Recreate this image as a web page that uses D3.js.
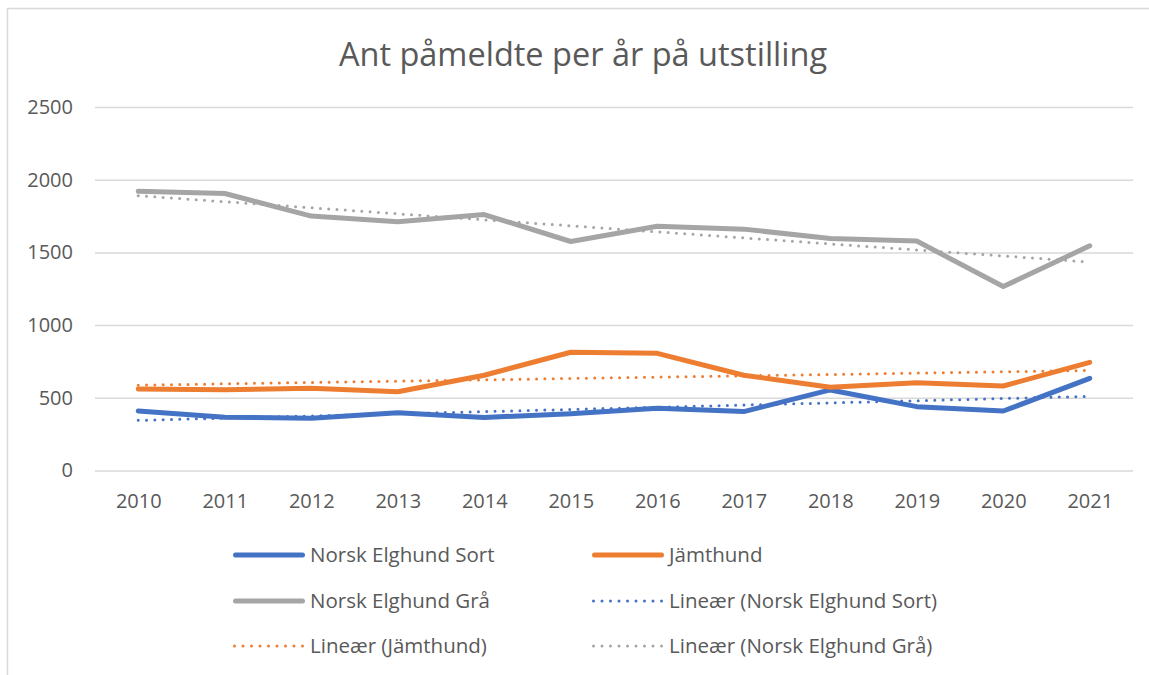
<!DOCTYPE html>
<meta charset="utf-8">
<style>
body { margin: 0; background: #fff; }
text { font-family: "Open Sans", sans-serif; fill: #595959; }
.grid line { stroke: #d9d9d9; stroke-width: 1.5px; }
.grid path { display: none; }
.axis path, .axis line { display: none; }
.series { fill: none; stroke-width: 5px; stroke-linejoin: round; stroke-linecap: round; }
.trend { fill: none; stroke-width: 3px; stroke-linecap: round; stroke-dasharray: 0 8.3; }
</style>
<body>
<script src="https://cdnjs.cloudflare.com/ajax/libs/d3/7.8.5/d3.min.js"></script>
<script>
// data
var years = ["2010", "2011", "2012", "2013", "2014", "2015", "2016", "2017", "2018", "2019", "2020", "2021"];
var sort = [410, 366, 360, 398, 365, 390, 428, 405, 554, 439, 409, 634];
var jamthund = [560, 555, 565, 542, 655, 813, 806, 655, 572, 604, 581, 744];
var gra = [1920, 1905, 1750, 1710, 1760, 1575, 1680, 1660, 1595, 1578, 1265, 1545];
var seriesNames = ["Norsk Elghund Sort", "Jämthund", "Norsk Elghund Grå"];
var colors = ["#4472c4", "#ed7d31", "#a5a5a5"];
// linear trend lines, first and last year
var trendStart = [345, 587, 1890];
var trendEnd = [510, 688, 1434];
var yTicks = [0, 500, 1000, 1500, 2000, 2500];
var title = "Ant påmeldte per år på utstilling";

var W = 1149, H = 675;
var margin = {top: 107, right: 16, bottom: 204.5, left: 95},
    width = W - margin.left - margin.right,
    height = H - margin.top - margin.bottom;

var svg = d3.select("body").append("svg")
    .attr("width", W)
    .attr("height", H);

// chart border (runs off the right and bottom edges)
svg.append("rect")
    .attr("x", 7.5).attr("y", 8.5)
    .attr("width", W).attr("height", H)
    .attr("fill", "none")
    .attr("stroke", "#d9d9d9")
    .attr("stroke-width", 1.5);

svg.append("text")
    .attr("x", 583)
    .attr("y", 66)
    .attr("text-anchor", "middle")
    .style("font-size", "32.5px")
    .text(title);

var g = svg.append("g")
    .attr("transform", "translate(" + margin.left + "," + margin.top + ")");

var x = d3.scalePoint().domain(years).range([0, width]).padding(0.5);
var y = d3.scaleLinear().domain([0, 2500]).range([height, 0]);

// gridlines
g.append("g")
    .attr("class", "grid")
    .call(d3.axisLeft(y).tickValues(yTicks).tickSize(-width).tickFormat(""));

// axes labels
g.append("g")
    .attr("class", "axis")
    .call(d3.axisLeft(y).tickValues(yTicks).tickSize(0).tickPadding(22).tickFormat(d3.format("d")))
    .selectAll("text").style("font-size", "20px");

g.append("g")
    .attr("class", "axis")
    .attr("transform", "translate(0," + height + ")")
    .call(d3.axisBottom(x).tickSize(0).tickPadding(23))
    .selectAll("text").style("font-size", "20px");

var line = d3.line()
    .x(function(d, i) { return x(years[i]); })
    .y(function(d) { return y(d); });

var allSeries = [sort, jamthund, gra];

// trend lines
allSeries.forEach(function(s, i) {
  g.append("path")
      .datum([trendStart[i], trendEnd[i]])
      .attr("class", "trend")
      .style("stroke", colors[i])
      .attr("d", d3.line()
        .x(function(d, j) { return j === 0 ? x(years[0]) : x(years[years.length - 1]); })
        .y(function(d) { return y(d); }));
});

allSeries.forEach(function(s, i) {
  g.append("path")
      .datum(s)
      .attr("class", "series")
      .style("stroke", colors[i])
      .attr("d", line);
});

// legend
var legendItems = [
  {name: seriesNames[0], color: colors[0], dotted: false},
  {name: seriesNames[1], color: colors[1], dotted: false},
  {name: seriesNames[2], color: colors[2], dotted: false},
  {name: "Lineær (" + seriesNames[0] + ")", color: colors[0], dotted: true},
  {name: "Lineær (" + seriesNames[1] + ")", color: colors[1], dotted: true},
  {name: "Lineær (" + seriesNames[2] + ")", color: colors[2], dotted: true}
];
var colX = [233, 592], rowY = [555, 601, 646];

var legend = svg.selectAll(".legend")
    .data(legendItems)
    .enter().append("g")
    .attr("class", "legend")
    .attr("transform", function(d, i) {
      return "translate(" + colX[i % 2] + "," + rowY[Math.floor(i / 2)] + ")";
    });

legend.append("line")
    .attr("x1", function(d) { return d.dotted ? 1.5 : 2.5; })
    .attr("x2", function(d) { return d.dotted ? 70 : 69.5; })
    .attr("class", function(d) { return d.dotted ? "trend" : "series"; })
    .style("stroke", function(d) { return d.color; })
    .style("stroke-dasharray", function(d) { return d.dotted ? "0 8.5" : null; });

legend.append("text")
    .attr("x", 77)
    .attr("dy", "0.35em")
    .style("font-size", "20.5px")
    .text(function(d) { return d.name; });
</script>
</body>
